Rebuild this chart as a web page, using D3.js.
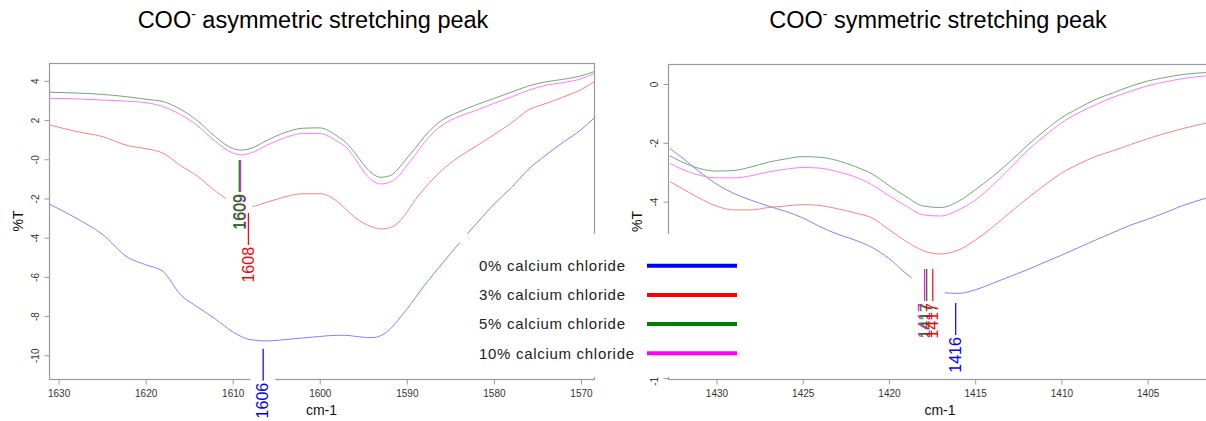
<!DOCTYPE html>
<html>
<head>
<meta charset="utf-8">
<script src="https://cdn.jsdelivr.net/npm/d3@7"></script>
<style>
  body { margin: 0; background: #fff; }
  svg text { font-family: "Liberation Sans", Arial, sans-serif; }
</style>
</head>
<body>
<div id="chart"></div>
<script>
// series names and colours
var seriesNames = ["0% calcium chloride", "3% calcium chloride", "5% calcium chloride", "10% calcium chloride"];
var strongColors = ["#0000ff", "#ff0000", "#008000", "#ff00ff"];
var lightColors = ["#8282ff", "#ff8282", "#73a873", "#ff7aff"];

// left panel: COO- asymmetric stretching (wavenumber, %T)
var leftWn = [1631, 1628, 1625, 1622, 1620, 1618, 1616, 1614, 1612, 1610, 1609, 1608, 1606, 1604, 1602, 1600, 1598, 1597, 1596, 1595, 1594, 1593, 1592, 1591, 1590, 1589, 1588, 1586, 1584, 1582, 1580, 1578, 1576, 1574, 1572, 1570, 1568.5];
var leftBlue = [-2.30, -3.0, -3.82, -5.02, -5.38, -5.73, -6.9, -7.55, -8.15, -8.80, -9.05, -9.2, -9.27, -9.2, -9.12, -9.04, -8.98, -8.98, -9.03, -9.08, -9.1, -9.0, -8.7, -8.2, -7.65, -7.05, -6.45, -5.35, -4.3, -3.28, -2.3, -1.45, -0.5, 0.22, 0.88, 1.5, 2.1];
var leftRed = [1.75, 1.42, 1.16, 0.69, 0.54, 0.31, -0.32, -0.88, -1.62, -2.2, -2.38, -2.42, -2.18, -1.92, -1.76, -1.76, -2.15, -2.55, -2.95, -3.25, -3.45, -3.56, -3.5, -3.25, -2.7, -2.05, -1.5, -0.58, 0.12, 0.68, 1.25, 1.85, 2.52, 2.85, 3.18, 3.55, 3.95];
var leftGreen = [3.42, 3.38, 3.31, 3.18, 3.06, 2.94, 2.55, 1.95, 1.15, 0.55, 0.47, 0.54, 0.98, 1.36, 1.58, 1.60, 1.18, 0.85, 0.35, -0.25, -0.72, -0.92, -0.85, -0.5, 0.05, 0.58, 1.15, 1.98, 2.42, 2.78, 3.1, 3.42, 3.74, 3.95, 4.08, 4.25, 4.47];
var leftMagenta = [3.11, 3.08, 3.02, 2.96, 2.89, 2.68, 2.28, 1.70, 0.92, 0.32, 0.23, 0.31, 0.73, 1.10, 1.31, 1.31, 0.92, 0.62, 0.08, -0.6, -1.08, -1.26, -1.18, -0.88, -0.32, 0.25, 0.85, 1.72, 2.18, 2.5, 2.85, 3.18, 3.52, 3.78, 3.91, 4.1, 4.37];

// right panel: COO- symmetric stretching
var rightWn = [1432.7, 1432, 1431, 1430, 1429, 1428, 1427, 1426, 1425, 1424, 1423, 1422, 1421, 1420, 1419, 1418, 1417, 1416, 1415, 1414, 1413, 1412, 1411, 1410, 1409, 1408, 1407, 1406, 1405, 1404, 1403, 1401.6];
var rightBlue = [-2.19, -2.5, -2.98, -3.4, -3.72, -3.95, -4.15, -4.33, -4.55, -4.85, -5.1, -5.3, -5.55, -5.93, -6.45, -6.85, -7.08, -7.12, -7.0, -6.78, -6.55, -6.32, -6.07, -5.82, -5.56, -5.3, -5.05, -4.8, -4.6, -4.38, -4.14, -3.88];
var rightRed = [-3.32, -3.55, -3.88, -4.15, -4.28, -4.28, -4.2, -4.15, -4.1, -4.13, -4.24, -4.38, -4.55, -4.95, -5.35, -5.67, -5.78, -5.65, -5.31, -4.87, -4.38, -3.9, -3.45, -3.03, -2.72, -2.46, -2.27, -2.06, -1.86, -1.68, -1.52, -1.33];
var rightGreen = [-2.44, -2.65, -2.87, -2.96, -2.94, -2.82, -2.66, -2.55, -2.47, -2.49, -2.6, -2.8, -3.05, -3.45, -3.83, -4.15, -4.2, -4.0, -3.6, -3.15, -2.65, -2.1, -1.6, -1.15, -0.82, -0.52, -0.3, -0.08, 0.1, 0.22, 0.32, 0.39];
var rightMagenta = [-2.7, -2.9, -3.1, -3.19, -3.19, -3.12, -2.99, -2.9, -2.84, -2.86, -2.98, -3.15, -3.42, -3.8, -4.15, -4.45, -4.49, -4.29, -3.95, -3.45, -2.88, -2.28, -1.78, -1.32, -0.98, -0.7, -0.45, -0.25, -0.06, 0.07, 0.18, 0.28];

// tick values and labels
var leftXTicks = [1630, 1620, 1610, 1600, 1590, 1580, 1570];
var leftYTicks = [4, 2, 0, -2, -4, -6, -8, -10];
var leftYTickLabels = ["4", "2", "-0", "-2", "-4", "-6", "-8", "-10"];
var rightXTicks = [1430, 1425, 1420, 1415, 1410, 1405];
var rightYTicks = [0, -2, -4, -6, -8, -10];
var rightYTickLabels = ["0", "-2", "-4", "-6", "-8", "-10"];

// peak labels: series index, wavenumber, value at top of the marker line, text
var leftPeakSeries = [3, 2, 1, 0];
var leftPeakWn = [1609.12, 1609.25, 1608.2, 1606.5];
var leftPeakTop = [-0.04, -0.04, -2.74, -9.67];
var leftPeakText = ["1609", "1609", "1608", "1606"];
var rightPeakSeries = [3, 2, 1, 0];
var rightPeakWn = [1417.93, 1417.81, 1417.46, 1416.13];
var rightPeakTop = [-6.29, -6.29, -6.29, -7.45];
var rightPeakText = ["1417", "1417", "1417", "1416"];

var width = 1206, height = 421;

var svg = d3.select("#chart")
  .append("svg")
  .attr("width", width)
  .attr("height", height);

function drawPanel(opt) {
  var x = d3.scaleLinear().domain(opt.xDomain).range([opt.left, opt.right]);
  var y = d3.scaleLinear().domain(opt.yDomain).range([opt.bottom, opt.top]);
  var g = svg.append("g");

  // plot frame
  g.append("rect")
    .attr("x", opt.left + 0.5).attr("y", opt.top + 0.5)
    .attr("width", opt.right - opt.left).attr("height", opt.bottom - opt.top)
    .attr("fill", "none").attr("stroke", "#9a9a9a").attr("stroke-width", 1.2);

  // x axis
  var xa = g.append("g")
    .attr("transform", "translate(0," + (opt.bottom + 0.5) + ")")
    .call(d3.axisBottom(x).tickValues(opt.xTicks).tickSize(5).tickPadding(5).tickFormat(d3.format("d")));
  xa.select(".domain").remove();
  xa.selectAll("line").attr("stroke", "#9a9a9a");
  xa.selectAll("text").attr("fill", "#333").style("font-size", "10px");

  // y axis with labels parallel to the axis
  var ya = g.append("g")
    .attr("transform", "translate(" + (opt.left + 0.5) + ",0)")
    .call(d3.axisLeft(y).tickValues(opt.yTicks).tickSize(5).tickFormat(function(d, i) { return opt.yLabels[i]; }));
  ya.select(".domain").remove();
  ya.selectAll("line").attr("stroke", "#9a9a9a");
  ya.selectAll("text")
    .attr("fill", "#333").style("font-size", "10px")
    .attr("x", null).attr("dy", null)
    .attr("text-anchor", "middle")
    .attr("transform", "translate(-11,0) rotate(-90)");

  // axis titles
  g.append("text")
    .attr("x", (opt.left + opt.right) / 2).attr("y", opt.bottom + 36)
    .attr("text-anchor", "middle").style("font-size", "14px").attr("fill", "#111")
    .text("cm-1");
  g.append("text")
    .attr("transform", "translate(" + (opt.left - 26) + "," + ((opt.top + opt.bottom) / 2) + ") rotate(-90)")
    .attr("text-anchor", "middle").style("font-size", "14px").attr("fill", "#111")
    .text("%T");

  // spectra
  g.append("clipPath").attr("id", opt.id + "-clip")
    .append("rect").attr("x", opt.left).attr("y", opt.top)
    .attr("width", opt.right - opt.left).attr("height", opt.bottom - opt.top);
  opt.series.forEach(function(vals, i) {
    var pts = opt.wn.map(function(w, j) { return [w, vals[j]]; });
    g.append("path")
      .datum(pts)
      .attr("clip-path", "url(#" + opt.id + "-clip)")
      .attr("fill", "none")
      .attr("stroke", lightColors[i])
      .attr("stroke-width", 1)
      .attr("d", d3.line()
        .curve(d3.curveMonotoneX)
        .x(function(d) { return x(d[0]); })
        .y(function(d) { return y(d[1]); }));
  });

  // peak labels: white backing first, then marks
  var lineLen = 32;
  opt.peakWn.forEach(function(w, i) {
    g.append("rect")
      .attr("x", x(w) - 13).attr("y", y(opt.peakTop[i]) - 3)
      .attr("width", 25).attr("height", lineLen + 44)
      .attr("fill", "#fff");
  });
  opt.peakWn.forEach(function(w, i) {
    var c = strongColors[opt.peakSeries[i]];
    var lg = g.append("g")
      .attr("transform", "translate(" + x(w) + "," + y(opt.peakTop[i]) + ") rotate(-90)");
    lg.append("line")
      .attr("x1", 0).attr("x2", -lineLen).attr("y1", 0).attr("y2", 0)
      .attr("stroke", c).attr("stroke-width", 1.2);
    lg.append("text")
      .attr("x", -lineLen - 2).attr("y", 0).attr("dy", "0.33em")
      .attr("text-anchor", "end")
      .style("font-size", "16px")
      .attr("fill", c)
      .text(opt.peakText[i]);
  });
}

drawPanel({
  id: "left", left: 49, right: 594, top: 63, bottom: 379,
  xDomain: [1631.1, 1568.5], yDomain: [-11.21, 4.91],
  xTicks: leftXTicks, yTicks: leftYTicks, yLabels: leftYTickLabels,
  wn: leftWn, series: [leftBlue, leftRed, leftGreen, leftMagenta],
  peakSeries: leftPeakSeries, peakWn: leftPeakWn, peakTop: leftPeakTop, peakText: leftPeakText
});

drawPanel({
  id: "right", left: 668, right: 1212, top: 64, bottom: 379,
  xDomain: [1432.81, 1401.27], yDomain: [-10.03, 0.68],
  xTicks: rightXTicks, yTicks: rightYTicks, yLabels: rightYTickLabels,
  wn: rightWn, series: [rightBlue, rightRed, rightGreen, rightMagenta],
  peakSeries: rightPeakSeries, peakWn: rightPeakWn, peakTop: rightPeakTop, peakText: rightPeakText
});

// titles
var titles = [["COO", " asymmetric stretching peak", 313], ["COO", " symmetric stretching peak", 938]];
titles.forEach(function(t) {
  var tx = svg.append("text")
    .attr("x", t[2]).attr("y", 28)
    .attr("text-anchor", "middle")
    .style("font-size", "23.5px").attr("fill", "#000");
  tx.append("tspan").text(t[0]);
  tx.append("tspan").attr("dy", -9).style("font-size", "14px").text("-");
  tx.append("tspan").attr("dy", 9).text(t[1]);
});

// legend box laid over both panels
var legend = svg.append("g");
legend.append("rect")
  .attr("x", 460).attr("y", 234).attr("width", 296).attr("height", 143)
  .attr("fill", "#fff");
var legendY = d3.scalePoint().domain(seriesNames).range([265.7, 353.3]);
seriesNames.forEach(function(name, i) {
  legend.append("text")
    .attr("x", 479).attr("y", legendY(name)).attr("dy", "0.35em")
    .style("font-size", "15px").style("letter-spacing", "0.7px").attr("fill", "#222")
    .text(name);
  legend.append("line")
    .attr("x1", 647).attr("x2", 737)
    .attr("y1", legendY(name)).attr("y2", legendY(name))
    .attr("stroke", strongColors[i]).attr("stroke-width", 4);
});
</script>
</body>
</html>
